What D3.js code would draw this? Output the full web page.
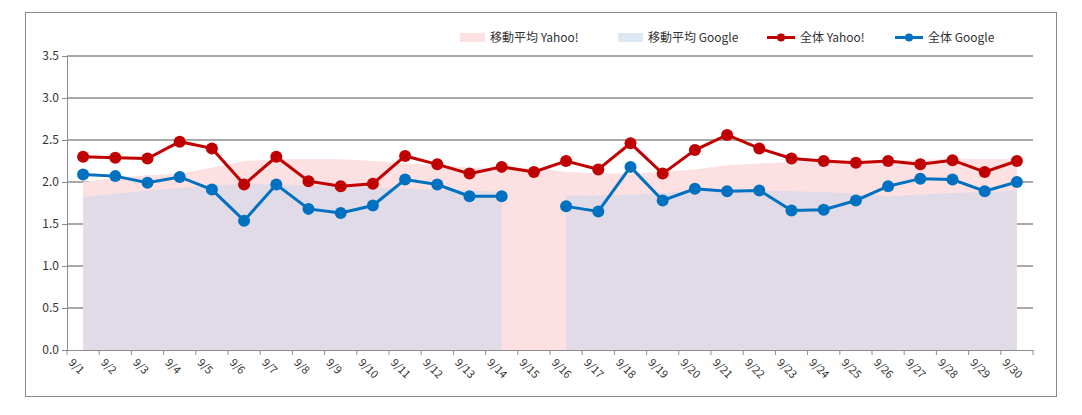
<!DOCTYPE html><html><head><meta charset="utf-8"><script src="https://cdn.jsdelivr.net/npm/d3@7"></script>
<style>body{margin:0;background:#fff}text{font-family:"Noto Sans CJK JP","DejaVu Sans",sans-serif}</style></head><body><svg id="c" width="1082" height="415"></svg><script>
const categories=["9/1","9/2","9/3","9/4","9/5","9/6","9/7","9/8","9/9","9/10","9/11","9/12","9/13","9/14","9/15","9/16","9/17","9/18","9/19","9/20","9/21","9/22","9/23","9/24","9/25","9/26","9/27","9/28","9/29","9/30"];
const yahoo=[2.30,2.29,2.28,2.48,2.40,1.97,2.30,2.01,1.95,1.98,2.31,2.21,2.10,2.18,2.12,2.25,2.15,2.46,2.10,2.38,2.56,2.40,2.28,2.25,2.23,2.25,2.21,2.26,2.12,2.25];
const google=[2.09,2.07,1.99,2.06,1.91,1.54,1.97,1.68,1.63,1.72,2.03,1.97,1.83,1.83,null,1.71,1.65,2.18,1.78,1.92,1.89,1.90,1.66,1.67,1.78,1.95,2.04,2.03,1.89,2.00];
const maYahoo=[2.00,2.05,2.08,2.10,2.17,2.25,2.27,2.27,2.27,2.25,2.22,2.20,2.17,2.17,2.17,2.12,2.10,2.10,2.12,2.15,2.20,2.22,2.24,2.25,2.25,2.26,2.26,2.28,2.27,2.27];
const maGoogle=[1.82,1.86,1.90,1.93,1.96,1.98,1.97,1.96,1.95,1.94,1.92,1.91,1.90,1.88,null,1.84,1.84,1.85,1.87,1.90,1.90,1.90,1.89,1.88,1.86,1.83,1.85,1.87,1.88,1.90];
const yTicks=[0,0.5,1,1.5,2,2.5,3,3.5];
const svg=d3.select("#c");
svg.append("rect").attr("x",25.5).attr("y",12.5).attr("width",1031).attr("height",384).attr("fill","none").attr("stroke","#888");
const x=d3.scaleBand().domain(categories).range([67,1033]);
const y=d3.scaleLinear().domain([0,3.5]).range([350,56]);
const cx=d=>x(d)+x.bandwidth()/2;
svg.append("g").selectAll("line").data(yTicks.slice(1)).join("line").attr("x1",67).attr("x2",1033).attr("y1",d=>y(d)).attr("y2",d=>y(d)).attr("stroke","#8c8c8c").attr("stroke-width",1.3);
const area=arr=>d3.area().defined(i=>arr[i]!=null).x(i=>cx(categories[i])).y0(y(0)).y1(i=>y(arr[i]));
const idx=d3.range(categories.length);
svg.append("path").attr("d",area(maYahoo)(idx)).attr("fill","#fde0e1");
svg.append("path").attr("d",area(maGoogle)(idx)).attr("fill","#e1dbe7");
const ya=svg.append("g").attr("transform","translate(67,0)").call(d3.axisLeft(y).tickValues(yTicks).tickFormat(d3.format(".1f")).tickSize(5));
ya.select(".domain").attr("stroke","#8c8c8c");ya.selectAll("line").attr("stroke","#8c8c8c");
ya.selectAll("text").attr("font-size",12).attr("fill","#333").attr("font-family","DejaVu Sans");
const xa=svg.append("g").attr("transform","translate(0,350)").call(d3.axisBottom(x).tickSize(0).tickPadding(8));
xa.select(".domain").attr("stroke","#8c8c8c");
xa.selectAll("line.grid").data(d3.range(categories.length+1)).join("line").attr("x1",i=>67+i*x.step()).attr("x2",i=>67+i*x.step()).attr("y1",0).attr("y2",5).attr("stroke","#8c8c8c");
xa.selectAll(".tick text").attr("font-size",11).attr("fill","#333").attr("font-family","DejaVu Sans").attr("text-anchor","start").attr("transform","translate(-4,2) rotate(45)");
function series(arr,col){
 const l=d3.line().defined(i=>arr[i]!=null).x(i=>cx(categories[i])).y(i=>y(arr[i]));
 svg.append("path").attr("d",l(idx)).attr("fill","none").attr("stroke",col).attr("stroke-width",3);
 svg.append("g").selectAll("circle").data(idx.filter(i=>arr[i]!=null)).join("circle").attr("cx",i=>cx(categories[i])).attr("cy",i=>y(arr[i])).attr("r",6).attr("fill",col);
}
series(yahoo,"#c00000");series(google,"#0070c0");
const lg=svg.append("g").attr("font-size",12).attr("fill","#333");
[[460,"#fde0e1","移動平均 Yahoo!","a"],[618,"#dde8f5","移動平均 Google","a"],[767,"#c00000","全体 Yahoo!","l"],[895,"#0070c0","全体 Google","l"]].forEach(([lx,c,t,k])=>{
 if(k=="a")lg.append("rect").attr("x",lx).attr("y",33).attr("width",25).attr("height",9).attr("fill",c);
 else{lg.append("line").attr("x1",lx).attr("x2",lx+28).attr("y1",37.5).attr("y2",37.5).attr("stroke",c).attr("stroke-width",3);lg.append("circle").attr("cx",lx+14).attr("cy",37.5).attr("r",4).attr("fill",c);}
 lg.append("text").attr("x",lx+(k=="a"?30:33)).attr("y",42).text(t).attr("fill","#333");
});
</script></body></html>
